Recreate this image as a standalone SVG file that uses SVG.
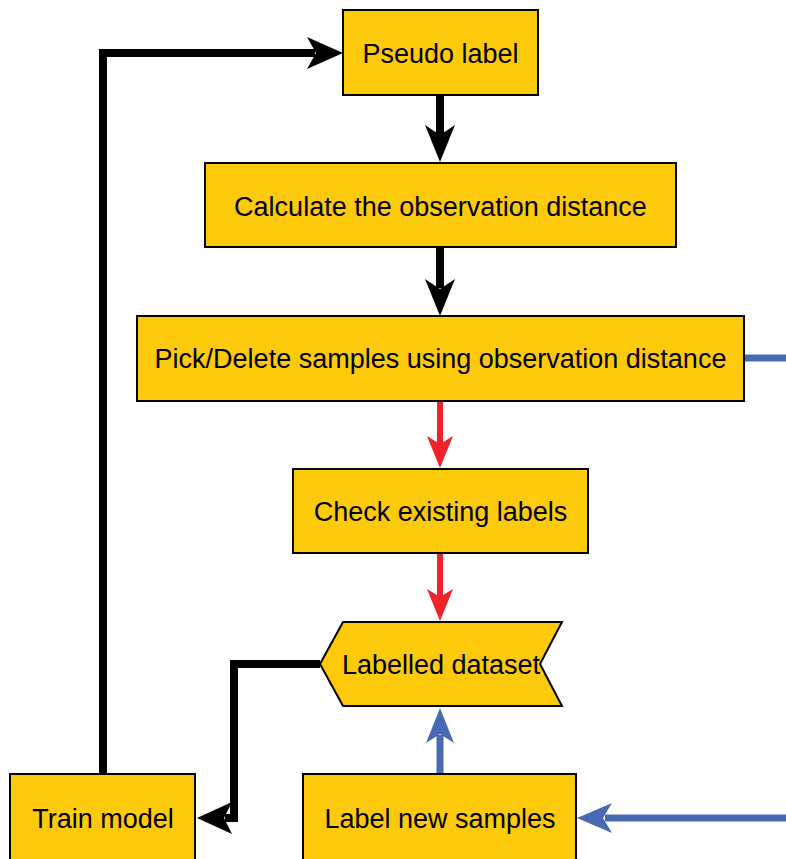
<svg xmlns="http://www.w3.org/2000/svg" width="786" height="859" viewBox="0 0 786 859">
<defs>
<style>
.box{fill:#FCCA0A;stroke:#000;stroke-width:2}
.t{font-family:"Liberation Sans",Arial,sans-serif;font-size:27px;fill:#000;text-anchor:middle}
.k{fill:none;stroke:#000;stroke-width:8}
.r{fill:none;stroke:#EE2229;stroke-width:6}
.b{fill:none;stroke:#4A69B5;stroke-width:7}
</style>
</defs>
<rect width="786" height="859" fill="#fff"/>
<g id="connectors">
<path class="k" d="M440 95V135"/>
<path d="M425 125L440 162L455 125L440 135Z" fill="#000"/>
<path class="k" d="M440 247V288"/>
<path d="M425 279L440 316L455 279L440 289Z" fill="#000"/>
<path class="r" d="M440 401V445"/>
<path d="M427 436L440 468L453 436L440 444Z" fill="#EE2229"/>
<path class="r" d="M440 553V598"/>
<path d="M427 589L440 621L453 589L440 597Z" fill="#EE2229"/>
<path class="b" d="M440 774V735"/>
<path d="M426 743L440 708L454 743L440 734Z" fill="#4A69B5"/>
<path class="b" d="M786 818H605"/>
<path d="M612 803L577 818L612 833L603 818Z" fill="#4A69B5"/>
<path class="b" d="M744 358H786"/>
<path class="k" d="M320 664H234V818H225"/>
<path d="M232 802L197 818L232 834L224 818Z" fill="#000"/>
<path class="k" d="M103 774V53H315"/>
<path d="M307 37L343 53L307 69L316 53Z" fill="#000"/>
</g>
<g id="pseudo"><rect class="box" x="343" y="10" width="195" height="85"/><text class="t" x="440.5" y="63">Pseudo label</text></g>
<g id="calc"><rect class="box" x="205" y="163" width="471" height="84"/><text class="t" x="440.5" y="216">Calculate the observation distance</text></g>
<g id="pick"><rect class="box" x="137" y="316" width="607" height="85"/><text class="t" x="440.5" y="368">Pick/Delete samples using observation distance</text></g>
<g id="check"><rect class="box" x="293" y="469" width="295" height="84"/><text class="t" x="440.5" y="521">Check existing labels</text></g>
<g id="dataset"><path class="box" d="M320 664L343 622H562L540 664L562 706H343Z"/><text class="t" x="441" y="674">Labelled dataset</text></g>
<g id="train"><rect class="box" x="10" y="774" width="185" height="90"/><text class="t" x="103" y="828">Train model</text></g>
<g id="labelnew"><rect class="box" x="303" y="774" width="273" height="90"/><text class="t" x="440" y="828">Label new samples</text></g>
</svg>
